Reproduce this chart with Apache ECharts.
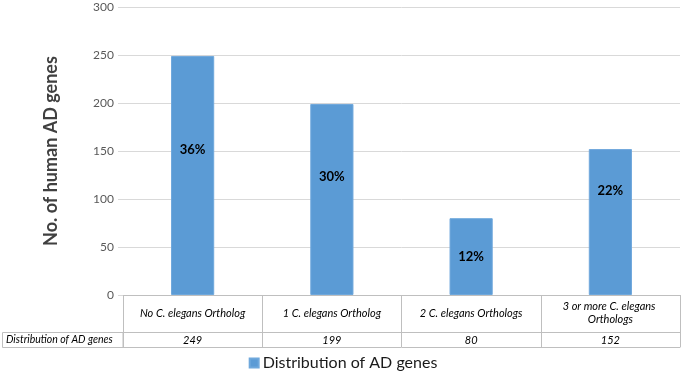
<!DOCTYPE html>
<html lang="en">
<head>
    <meta charset="utf-8" />
    <title>AD genes</title>
    <script type="text/javascript" src="https://cdn.jsdelivr.net/npm/echarts@6/dist/echarts.min.js"></script>
</head>
<body style="margin:0;background:#fff">
    <div id="container" style="width:686px;height:380px;"></div>
</body>
</html>
<script type="text/javascript">
    var categories = ['No C. elegans Ortholog', '1 C. elegans Ortholog', '2 C. elegans Orthologs', '3 or more C. elegans Orthologs'];
    var geneCounts = [249, 199, 80, 152];
    var percentLabels = ['36%', '30%', '12%', '22%'];
    var seriesName = 'Distribution of AD genes';
    var yTicks = { min: 0, max: 300, interval: 50 };

    // Excel put the labels by hand, so nudge each one
    var labelShift = [-26, -23, 0, -31];

    var FONT = 'Lato';
    var tableLine = '#bfbfbf';

    var myChart = echarts.init(document.getElementById('container'));

    var barData = geneCounts.map(function (v, i) {
        return {
            value: v,
            label: { offset: [0, labelShift[i]] }
        };
    });

    var option = {
        backgroundColor: '#fff',
        animation: false,
        textStyle: { fontFamily: FONT },
        grid: { left: 123, right: 6, top: 7, bottom: 85, containLabel: false },
        legend: {
            bottom: 4,
            left: 'center',
            data: [seriesName],
            icon: 'rect',
            itemWidth: 9,
            itemHeight: 9,
            itemGap: 6,
            textStyle: { fontFamily: FONT, fontSize: 16, color: '#1a1a1a', padding: [0, 0, 0, -1] }
        },
        xAxis: [
            {
                type: 'category',
                data: categories,
                position: 'bottom',
                axisLine: { lineStyle: { color: tableLine } },
                axisTick: { show: true, interval: 0, length: 52, lineStyle: { color: tableLine } },
                axisLabel: {
                    interval: 0,
                    margin: 18,
                    verticalAlign: 'middle',
                    width: 120,
                    overflow: 'break',
                    lineHeight: 13,
                    fontFamily: FONT,
                    fontStyle: 'italic',
                    fontSize: 11,
                    color: '#000'
                }
            },
            {
                type: 'category',
                data: categories,
                position: 'bottom',
                offset: 37,
                axisLine: { lineStyle: { color: tableLine } },
                axisTick: { show: false },
                axisLabel: {
                    interval: 0,
                    margin: 8,
                    verticalAlign: 'middle',
                    fontFamily: FONT,
                    fontStyle: 'italic',
                    fontSize: 11,
                    color: '#000',
                    formatter: function (v, i) { return String(geneCounts[i]); }
                }
            },
            {
                type: 'category',
                data: categories,
                position: 'bottom',
                offset: 52,
                axisLine: { lineStyle: { color: tableLine } },
                axisTick: { show: false },
                axisLabel: { show: false }
            }
        ],
        yAxis: {
            type: 'value',
            min: yTicks.min,
            max: yTicks.max,
            interval: yTicks.interval,
            name: 'No. of human AD genes',
            nameLocation: 'middle',
            nameGap: 63,
            nameTextStyle: { fontFamily: FONT, fontSize: 18, fontWeight: 'bold', color: '#404040' },
            axisLine: { show: false },
            axisTick: { show: true, length: 5, lineStyle: { color: '#d9d9d9' } },
            axisLabel: { margin: 9, fontFamily: FONT, fontSize: 12, color: '#595959' },
            splitLine: { lineStyle: { color: '#d9d9d9' } }
        },
        graphic: [
            {
                type: 'rect',
                shape: { x: 2.5, y: 332.5, width: 120.5, height: 15 },
                style: { fill: 'none', stroke: tableLine, lineWidth: 1 }
            },
            {
                type: 'text',
                x: 6,
                y: 340,
                style: {
                    text: seriesName,
                    fontFamily: FONT,
                    fontStyle: 'italic',
                    fontSize: 10.5,
                    fill: '#000',
                    verticalAlign: 'middle'
                }
            }
        ],
        series: [
            {
                name: seriesName,
                type: 'bar',
                barWidth: '31%',
                data: barData,
                itemStyle: { color: '#5b9bd5', borderColor: '#6fa8dc', borderWidth: 1 },
                label: {
                    show: true,
                    position: 'inside',
                    formatter: function (p) { return percentLabels[p.dataIndex]; },
                    fontFamily: FONT,
                    fontSize: 13,
                    fontWeight: 'bold',
                    color: '#000'
                }
            }
        ]
    };

    myChart.setOption(option, true);
</script>
